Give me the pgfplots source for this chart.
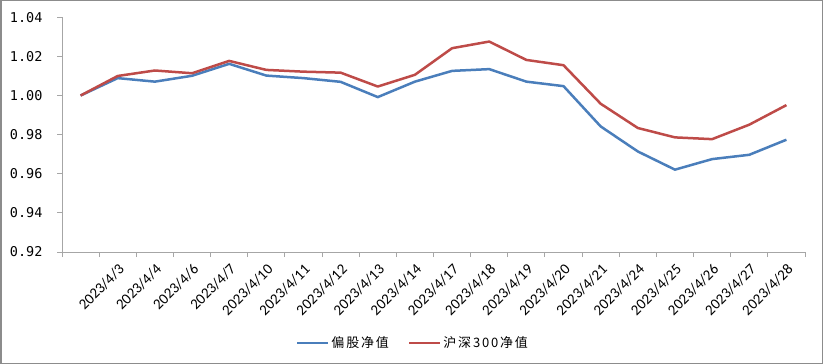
\documentclass[border=0pt]{standalone}
\usepackage{fontspec}
\setmainfont{Liberation Sans}
\newfontfamily\cjk[LetterSpace=14]{Noto Sans CJK SC}
\newfontfamily\monof{DejaVu Sans Mono}
\newfontfamily\calf{Carlito}
\usepackage{pgfplots}
\pgfplotsset{compat=1.18}
\definecolor{sblue}{HTML}{4A7EBB}
\definecolor{sred}{HTML}{BE4B48}
\definecolor{axgray}{HTML}{A6A6A6}
\definecolor{framegray}{HTML}{8C8C8C}
\begin{document}
\begin{tikzpicture}
\useasboundingbox (0,0) rectangle (823bp,364bp);
\draw[framegray, line width=1.5bp] (0.75bp,0.75bp) rectangle (822.25bp,363.25bp);
\begin{axis}[
  at={(62bp,112bp)}, anchor=south west,
  scale only axis, width=743bp, height=234.7bp,
  xmin=-0.5, xmax=19.5, ymin=0.92, ymax=1.04,
  axis x line*=bottom, axis y line*=left,
  axis line style={draw=axgray, line width=1bp, -},
  tick style={draw=axgray, line width=1bp},
  tick align=outside, major tick length=5bp,
  xtick={-0.5,0.5,...,19.5},
  x tick label as interval,
  xticklabels={,2023/4/3,2023/4/4,2023/4/6,2023/4/7,2023/4/10,2023/4/11,2023/4/12,2023/4/13,2023/4/14,2023/4/17,2023/4/18,2023/4/19,2023/4/20,2023/4/21,2023/4/24,2023/4/25,2023/4/26,2023/4/27,2023/4/28},
  xticklabel style={font=\calf\fontsize{15bp}{17bp}\selectfont, rotate=45, anchor=north east, inner sep=1bp, xshift=-3bp, yshift=-3bp},
  ytick={0.92,0.94,0.96,0.98,1.00,1.02,1.04},
  yticklabels={0.92,0.94,0.96,0.98,1.00,1.02,1.04},
  yticklabel style={font=\monof\fontsize{13.5bp}{15bp}\selectfont, anchor=east, xshift=-11bp},
  legend style={at={(0.4724,-0.3877)}, anchor=center, draw=none, fill=none,
    font=\cjk\fontsize{13bp}{15bp}\selectfont, legend columns=2,
    /tikz/every even column/.append style={column sep=17bp}},
  legend image code/.code={\draw[#1, line width=2.5bp] (0bp,0bp) -- (31bp,0bp);},
  clip=false,
]
\addplot[sblue, line width=2.5bp, line join=round] coordinates {
(0,1.000) (1,1.0089) (2,1.0071) (3,1.0101) (4,1.0162) (5,1.0102) (6,1.0089) (7,1.0070) (8,0.9992) (9,1.0071)
(10,1.0126) (11,1.0135) (12,1.0071) (13,1.0048) (14,0.9842) (15,0.9714) (16,0.9621) (17,0.9675) (18,0.9697) (19,0.9774)};
\addlegendentry{偏股净值}
\addplot[sred, line width=2.5bp, line join=round] coordinates {
(0,1.000) (1,1.0100) (2,1.0128) (3,1.0114) (4,1.0177) (5,1.0131) (6,1.0122) (7,1.0117) (8,1.0046) (9,1.0106)
(10,1.0242) (11,1.0276) (12,1.0182) (13,1.0155) (14,0.9958) (15,0.9834) (16,0.9786) (17,0.9777) (18,0.9851) (19,0.9951)};
\addlegendentry{沪深300净值}
\end{axis}
\end{tikzpicture}
\end{document}
